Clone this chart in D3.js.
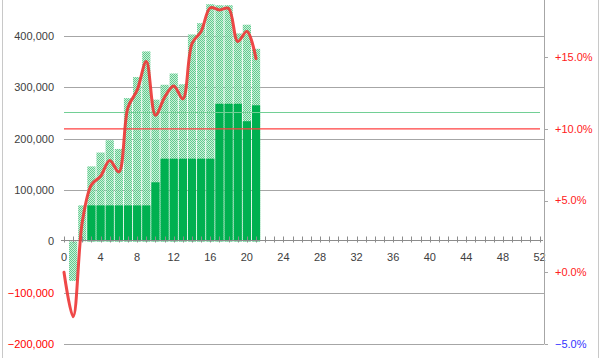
<!DOCTYPE html>
<html><head><meta charset="utf-8">
<script src="https://cdn.jsdelivr.net/npm/d3@7/dist/d3.min.js"></script>
<style>
html,body{margin:0;padding:0;background:#fff;}
svg{display:block;font-family:"Liberation Sans",Arial,sans-serif;}
</style></head>
<body>
<svg id="chart" width="600" height="358"></svg>
<script>
// ---- data ----
const weeks = [1,2,3,4,5,6,7,8,9,10,11,12,13,14,15,16,17,18,19,20,21];
const totalValues = [-77000,70000,146000,173000,197000,180000,279000,320000,370000,276000,305000,327000,306000,403000,425000,462000,460000,460000,405000,422000,375000];
const solidValues = [0,0,70000,70000,70000,70000,70000,70000,70000,115000,161000,161000,161000,161000,161000,161000,268000,268000,268000,234000,265000];
const lineWeeks = [0,1,2,3,4,5,6,7,8,9,10,11,12,13,14,15,16,17,18,19,20,21];
const linePct = [0.0,-3.1,3.5,6.1,6.7,7.8,7.0,11.5,12.7,14.7,10.95,12.2,13.0,12.1,15.95,16.8,18.45,18.3,18.4,16.1,16.8,14.9];
const redTargetPct = 10.0;
const greenTargetPct = 11.2;
const leftTicks = [-200000,-100000,0,100000,200000,300000,400000];
const rightTicks = [-5,0,5,10,15];
const xLabelTicks = [0,4,8,12,16,20,24,28,32,36,40,44,48,52];
const xMinorTicks = d3.range(0,53);

// ---- layout ----
const svg = d3.select("#chart");
const plotL = 64, plotR = 544;
const x = d3.scaleLinear().domain([0,52]).range([64,539.5]);
const yL = d3.scaleLinear().domain([-200000,400000]).range([344,36]);
const yR = d3.scaleLinear().domain([-5,15]).range([344,57.2]);
const unit = x(1)-x(0);
const bw = unit*0.9;

// pattern
const defs = svg.append("defs");
const pat = defs.append("pattern").attr("id","chk").attr("patternUnits","userSpaceOnUse")
  .attr("width",2).attr("height",2);
pat.append("rect").attr("width",2).attr("height",2).attr("fill","#c8eed5");
pat.append("rect").attr("x",0).attr("y",0).attr("width",1).attr("height",1).attr("fill","#52c786");
pat.append("rect").attr("x",1).attr("y",1).attr("width",1).attr("height",1).attr("fill","#52c786");

// frame lines
svg.append("line").attr("x1",2.5).attr("x2",2.5).attr("y1",0).attr("y2",358).attr("stroke","#c8c8c8");
svg.append("line").attr("x1",598.5).attr("x2",598.5).attr("y1",0).attr("y2",358).attr("stroke","#c8c8c8");

// gridlines
svg.append("g").selectAll("line").data(leftTicks.filter(d=>d!==0)).join("line")
  .attr("x1",plotL).attr("x2",plotR)
  .attr("y1",d=>Math.round(yL(d))+0.5).attr("y2",d=>Math.round(yL(d))+0.5)
  .attr("stroke","#a6a6a6").attr("stroke-width",1);

// hatched bars
svg.append("g").selectAll("rect").data(weeks).join("rect")
  .attr("x",(d)=>x(d)-bw/2).attr("width",bw)
  .attr("y",(d,i)=>Math.min(yL(0),yL(totalValues[i])))
  .attr("height",(d,i)=>Math.abs(yL(totalValues[i])-yL(0)))
  .attr("fill","url(#chk)").attr("fill-opacity",0.92);

// solid bars
svg.append("g").selectAll("rect").data(weeks).join("rect")
  .attr("x",(d)=>x(d)-bw/2).attr("width",bw)
  .attr("y",(d,i)=>Math.min(yL(0),yL(solidValues[i])))
  .attr("height",(d,i)=>Math.abs(yL(solidValues[i])-yL(0)))
  .attr("fill","#00b050");

// x axis
const y0 = Math.round(yL(0))-0.5;
const xa = svg.append("g");
xa.append("line").attr("x1",61).attr("x2",543).attr("y1",y0).attr("y2",y0).attr("stroke","#8c8c8c");
xa.selectAll("line.t").data(xMinorTicks).join("line").attr("class","t")
  .attr("x1",d=>Math.round(x(d))+0.5).attr("x2",d=>Math.round(x(d))+0.5)
  .attr("y1",y0-4).attr("y2",y0+2).attr("stroke","#8c8c8c");
xa.selectAll("text").data(xLabelTicks).join("text")
  .attr("x",d=>x(d)).attr("y",y0+20).attr("text-anchor","middle")
  .attr("font-size",11).attr("fill","#404040").text(d=>d);

// left labels
const fmt = d3.format(",");
svg.append("g").selectAll("text").data(leftTicks).join("text")
  .attr("x",54).attr("y",d=>yL(d)).attr("dy","0.35em").attr("text-anchor","end")
  .attr("font-size",11).attr("fill",d=>d<0?"#ff0000":"#404040").text(d=>fmt(d));

// right axis
svg.append("line").attr("x1",544.5).attr("x2",544.5).attr("y1",0).attr("y2",344).attr("stroke","#a6a6a6");
svg.append("g").selectAll("line").data(rightTicks).join("line")
  .attr("x1",544.5).attr("x2",548).attr("y1",d=>Math.round(yR(d))+0.5).attr("y2",d=>Math.round(yR(d))+0.5)
  .attr("stroke","#a6a6a6");
svg.append("g").selectAll("text").data(rightTicks).join("text")
  .attr("x",555).attr("y",d=>yR(d)).attr("dy","0.35em").attr("text-anchor","start")
  .attr("font-size",11).attr("fill",d=>d<0?"#3333ff":"#ff2020")
  .text(d=>(d>=0?"+":"")+d3.format(".1f")(d)+"%");

// target lines
svg.append("line").attr("x1",plotL).attr("x2",540)
  .attr("y1",Math.round(yR(greenTargetPct))+0.5).attr("y2",Math.round(yR(greenTargetPct))+0.5)
  .attr("stroke","#72cf95").attr("stroke-width",1);
svg.append("line").attr("x1",plotL).attr("x2",540)
  .attr("y1",yR(redTargetPct)).attr("y2",yR(redTargetPct))
  .attr("stroke","#ff4040").attr("stroke-width",1.4);

// smoothed line
const line = d3.line().x((d,i)=>x(lineWeeks[i])).y(d=>yR(d)).curve(d3.curveCatmullRom.alpha(0.5));
svg.append("path").datum(linePct).attr("d",line).attr("fill","none")
  .attr("stroke","#ee3838").attr("stroke-width",3).attr("stroke-opacity",0.92)
  .attr("stroke-linejoin","round").attr("stroke-linecap","round");
</script>
</body></html>
